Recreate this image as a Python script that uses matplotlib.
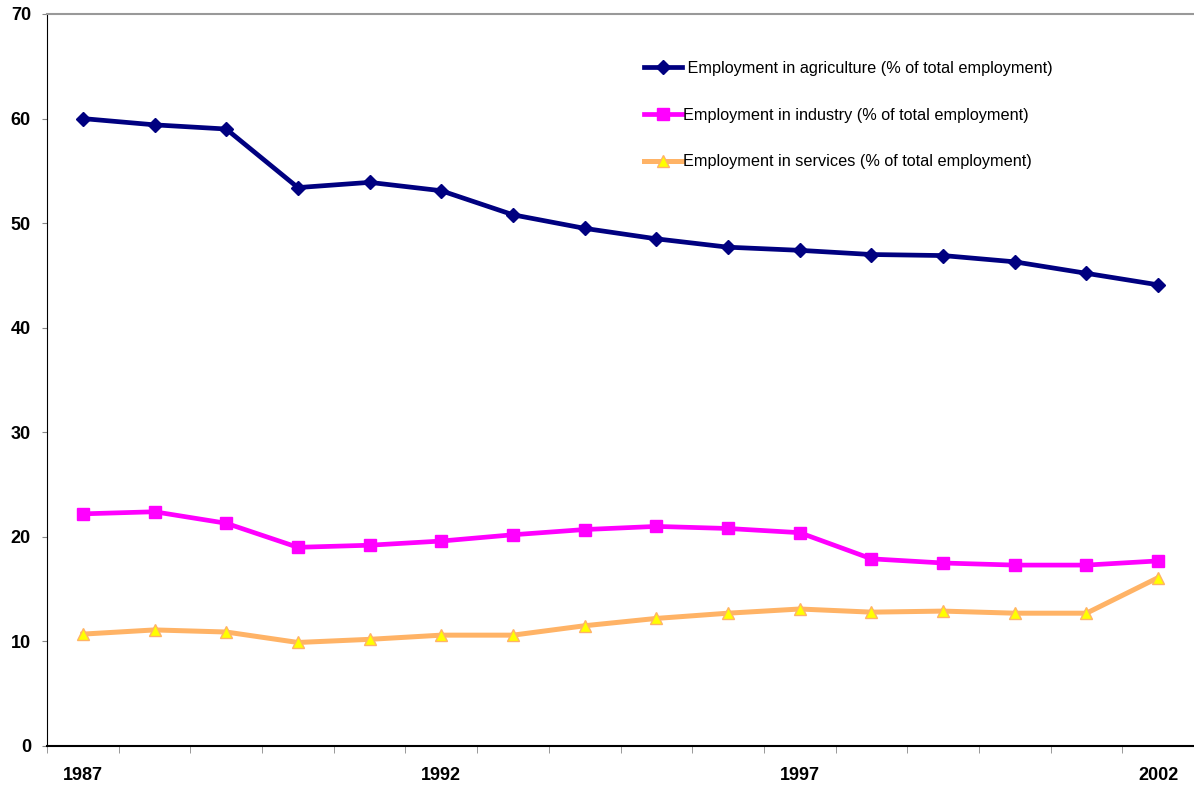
import matplotlib
matplotlib.use("Agg")
import matplotlib.pyplot as plt
from matplotlib.ticker import FixedLocator, MultipleLocator

plt.rcParams["font.family"] = ["Liberation Sans", "DejaVu Sans"]

years = list(range(1987, 2003))
agriculture = [60.0, 59.4, 59.0, 53.4, 53.9, 53.1, 50.8, 49.5, 48.5, 47.7,
               47.4, 47.0, 46.9, 46.3, 45.2, 44.1]
industry = [22.2, 22.4, 21.3, 19.0, 19.2, 19.6, 20.2, 20.7, 21.0, 20.8,
            20.4, 17.9, 17.5, 17.3, 17.3, 17.7]
services = [10.7, 11.1, 10.9, 9.9, 10.2, 10.6, 10.6, 11.5, 12.2, 12.7,
            13.1, 12.8, 12.9, 12.7, 12.7, 16.1]
year_labels = [1987, 1992, 1997, 2002]

fig = plt.figure(figsize=(11.94, 7.88), dpi=100)
ax = fig.add_axes([47 / 1194, 42 / 788, 1147 / 1194, 732 / 788])

ax.plot(years, agriculture, color="#000080", lw=3.4, marker="D", ms=7,
        label=" Employment in agriculture (% of total employment)")
ax.plot(years, industry, color="#FF00FF", lw=3.4, marker="s", ms=8.5,
        label="Employment in industry (% of total employment)")
ax.plot(years, services, color="#FFB366", lw=3.6, marker="^", ms=8,
        mfc="#FFFF00", mec="#FFB366", mew=1,
        label="Employment in services (% of total employment)")

ax.set_xlim(1986.5, 2002.5)
ax.set_ylim(0, 70)
ax.yaxis.set_major_locator(MultipleLocator(10))
ax.set_xticks(year_labels)
ax.set_xticklabels([str(y) for y in year_labels])
ax.xaxis.set_minor_locator(FixedLocator([y - 0.5 for y in years] + [2002.5]))
ax.tick_params(axis="x", which="major", length=0, pad=15, labelsize=13)
ax.tick_params(axis="x", which="minor", length=5, color="#888888", direction="out")
ax.tick_params(axis="y", length=3.6, color="#888888", pad=8, labelsize=13)
for lbl in ax.get_xticklabels() + ax.get_yticklabels():
    lbl.set_fontweight("bold")

ax.spines["right"].set_visible(False)
ax.spines["top"].set_color("#999999")
ax.spines["top"].set_linewidth(1.5)
ax.spines["left"].set_color("black")
ax.spines["bottom"].set_color("black")
ax.spines["bottom"].set_linewidth(1.5)

ax.legend(loc="upper left", bbox_to_anchor=(0.508, 0.956), frameon=False,
          fontsize=11.7, labelspacing=1.95, handlelength=2.3, handletextpad=0.1)

fig.savefig("out.png", dpi=100)
